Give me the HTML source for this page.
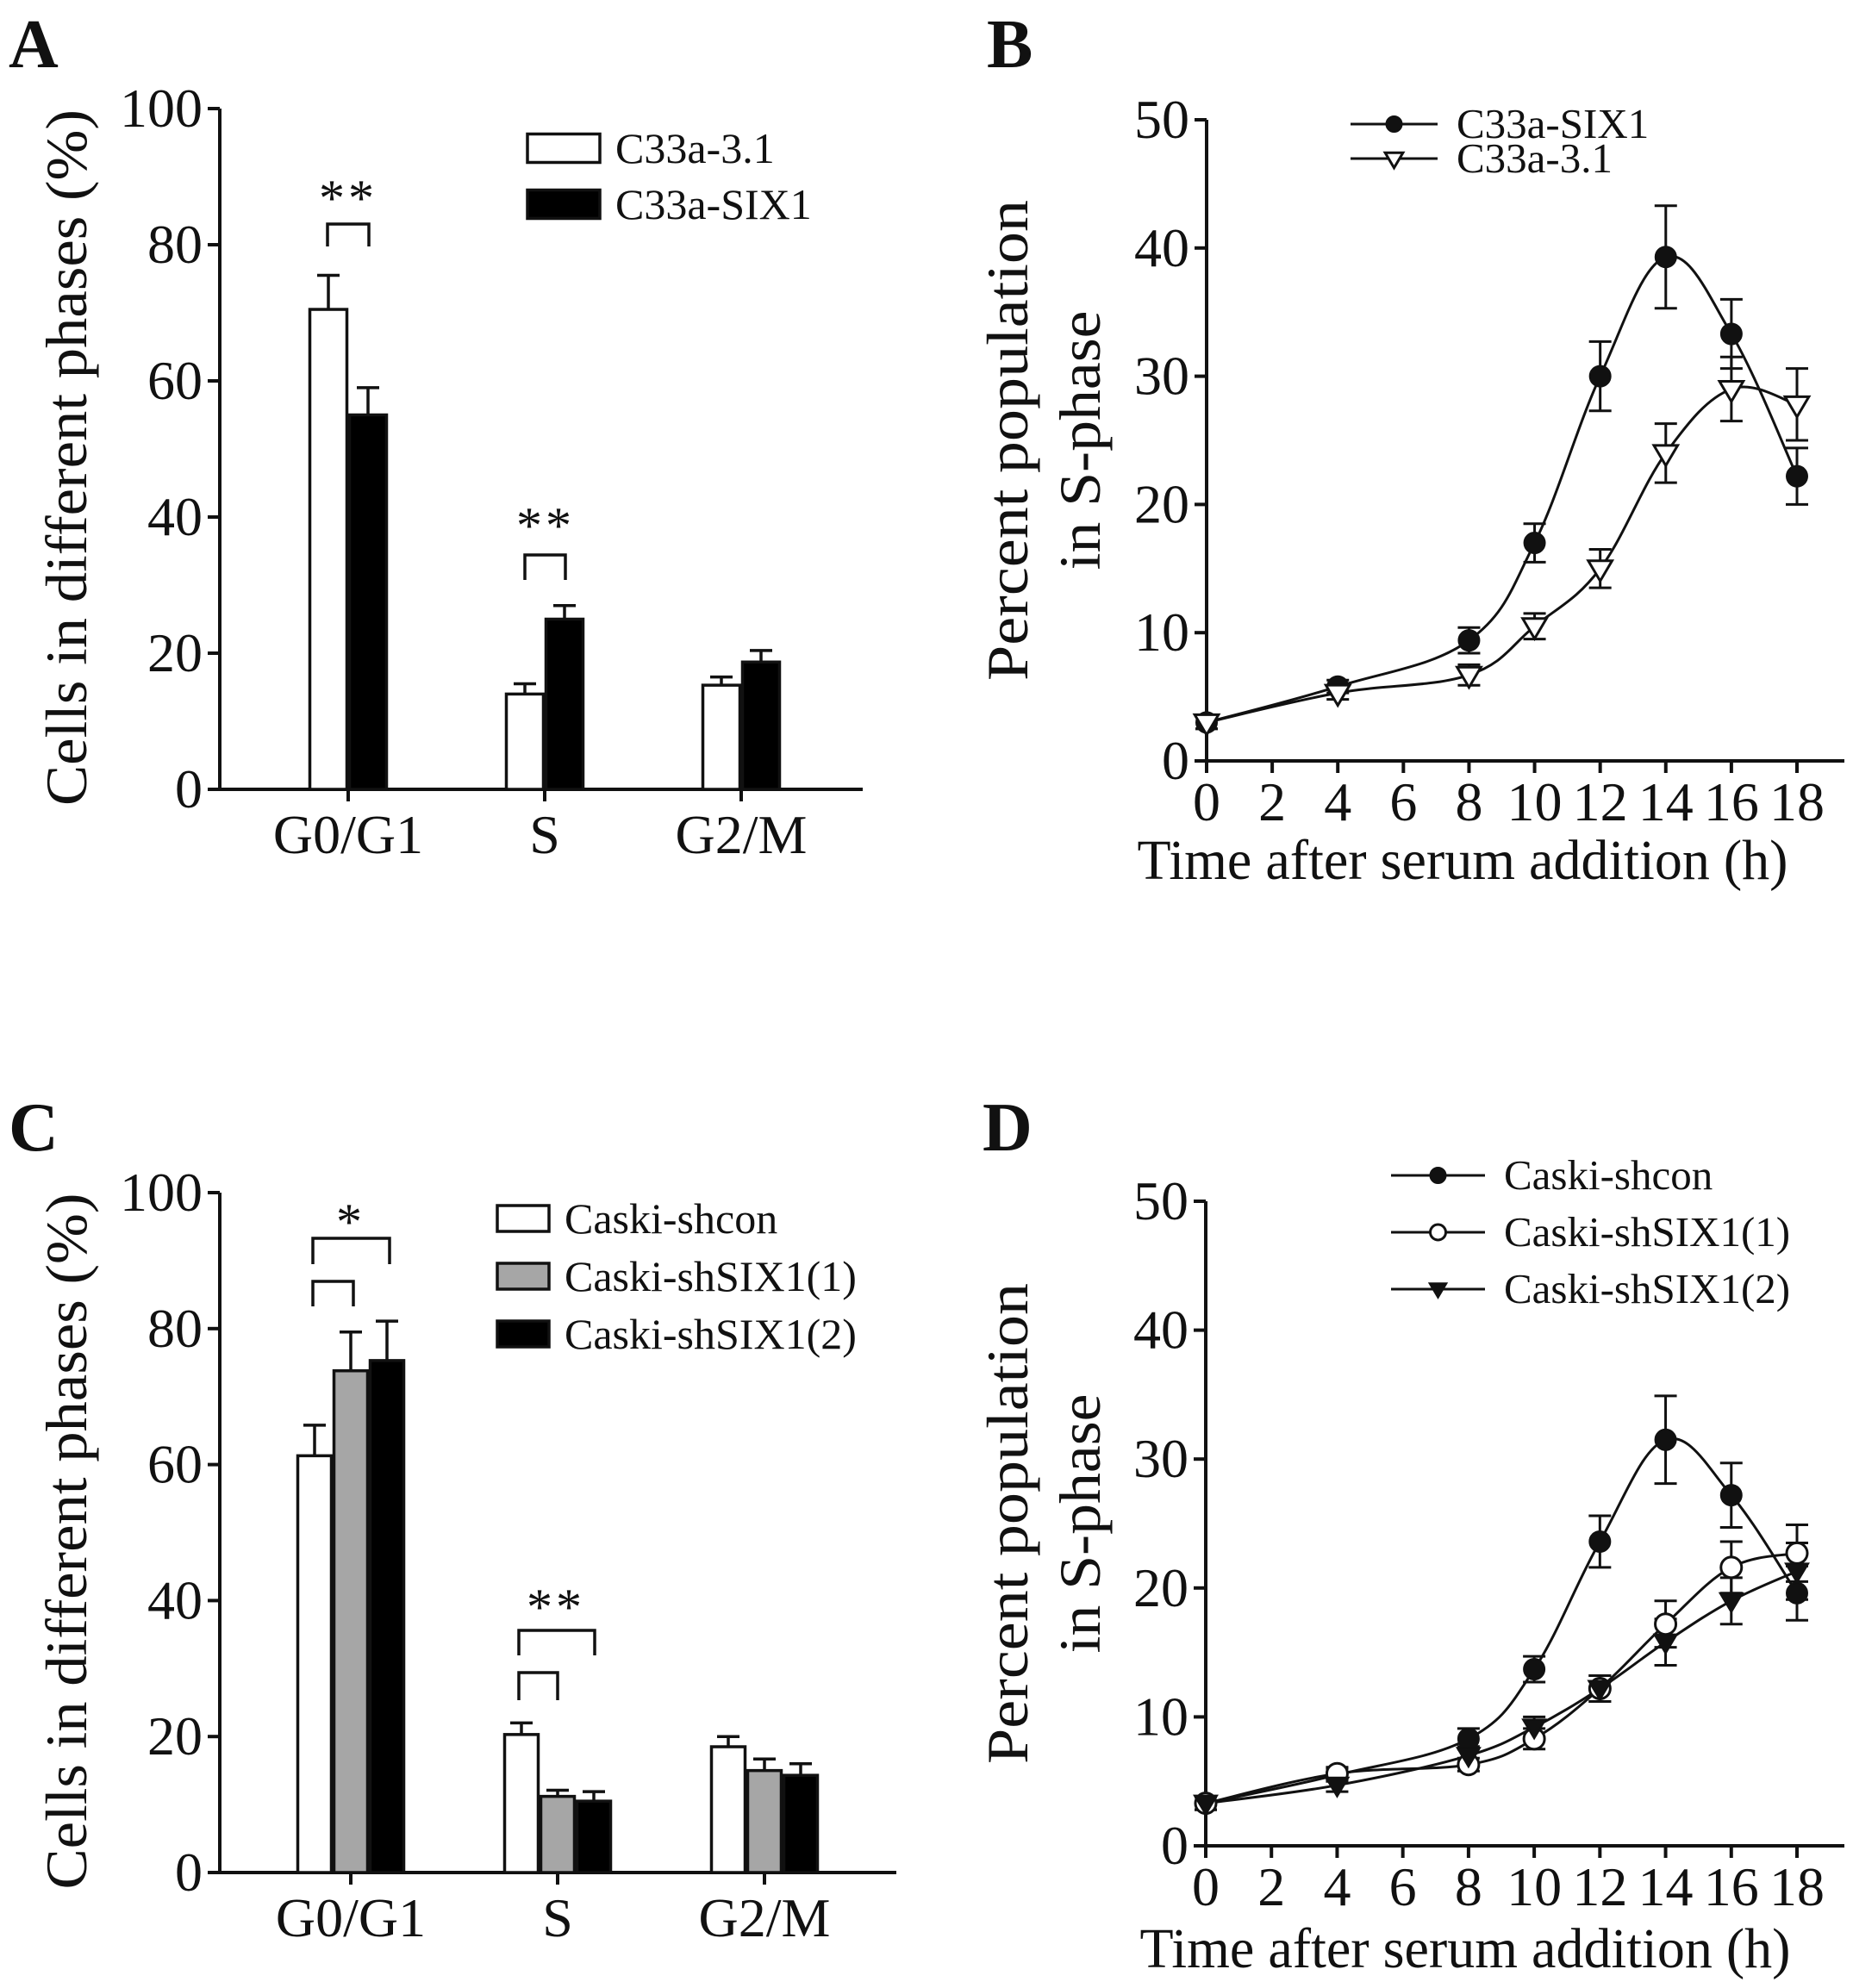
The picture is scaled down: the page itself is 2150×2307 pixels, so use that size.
<!DOCTYPE html>
<html><head><meta charset="utf-8"><style>
html,body{margin:0;padding:0;background:#fff}
svg{display:block;font-family:"Liberation Serif",serif}
</style></head><body>
<svg id="fig" width="2150" height="2307" viewBox="0 0 2150 2307" xmlns="http://www.w3.org/2000/svg">
<g fill="#111" font-weight="bold" font-size="80">
<text x="10" y="78">A</text>
<text x="1145" y="78">B</text>
<text x="10" y="1335">C</text>
<text x="1140" y="1335">D</text>
</g>
<g id="root"></g>
</svg>
<script>
// Panel A data
const catsA = ["G0/G1","S","G2/M"];
const a31 = [70.5,14,15.3];
const a31Err = [5,1.5,1.2];
const aSix = [55,25,18.7];
const aSixErr = [4,2,1.7];
// Panel C data
const catsC = ["G0/G1","S","G2/M"];
const cShcon = [61.3,20.3,18.5];
const cShconErr = [4.5,1.7,1.5];
const cSh1 = [73.8,11.2,15];
const cSh1Err = [5.7,0.9,1.7];
const cSh2 = [75.3,10.5,14.3];
const cSh2Err = [5.8,1.4,1.7];
const barTicks = [0,20,40,60,80,100];
// Panel B data
const timeB = [0,4,8,10,12,14,16,18];
const bSix = [3,5.8,9.4,17,30,39.3,33.3,22.2];
const bSixErr = [0.5,0.5,1,1.5,2.7,4,2.7,2.2];
const b31 = [3,5.3,6.7,10.5,15,24,29,27.8];
const b31Err = [0.5,0.5,0.8,1,1.5,2.3,2.5,2.8];
// Panel D data
const timeD = [0,4,8,10,12,14,16,18];
const dShcon = [3.3,5.5,8.3,13.7,23.6,31.5,27.2,19.6];
const dShconErr = [0.5,0.5,0.8,1,2,3.4,2.5,2.1];
const dSh1 = [3.3,5.6,6.3,8.3,12.2,17.2,21.6,22.7];
const dSh1Err = [0.5,0.5,0.5,0.8,1,1.8,2,2.2];
const dSh2 = [3.3,4.7,7,9.2,12.2,15.8,19,21.3];
const dSh2Err = [0.5,0.5,0.7,0.8,1,1.8,1.8,2.2];
const lineXTicks = [0,2,4,6,8,10,12,14,16,18];
const lineYTicks = [0,10,20,30,40,50];

const NS="http://www.w3.org/2000/svg";
const root=document.getElementById('root');
function mk(tag,attrs,parent){const e=document.createElementNS(NS,tag);for(const k in attrs)e.setAttribute(k,attrs[k]);(parent||root).appendChild(e);return e;}
function txt(s,attrs,parent){const e=mk('text',attrs,parent);e.textContent=s;return e;}

function barPanel(o){
  const g=mk('g',{});
  
  
  const y=v=>o.y0-(v/100)*(o.y0-o.y100);
  const ax=mk('path',{d:`M${o.ax} ${o.y100} V${o.y0} H${o.xEnd}`,stroke:'#111','stroke-width':4,fill:'none'},g);
  
  
  barTicks.forEach(t=>{
    mk('line',{x1:o.ax-14,x2:o.ax,y1:y(t),y2:y(t),stroke:'#111','stroke-width':4},g);
    const l=txt(String(t),{x:o.ax-20,y:y(t)+21,'font-size':64,'text-anchor':'end',fill:'#111'},g);
    
    
  });
  const yl=txt('Cells in different phases (%)',{x:0,y:0,'font-size':68,'text-anchor':'middle',fill:'#111',textLength:808,lengthAdjust:'spacingAndGlyphs',transform:`translate(${o.ylx},${(o.y0+o.y100)/2+10}) rotate(-90)`},g);
  
  
  const n=o.series.length;
  o.cats.forEach((c,i)=>{
    const cx=o.c0+i*o.cstep;
    mk('line',{x1:cx,x2:cx,y1:o.y0,y2:o.y0+14,stroke:'#111','stroke-width':4},g);
    const l=txt(c,{x:cx,y:o.tly,'font-size':64,'text-anchor':'middle',fill:'#111'},g);
    
    
    o.series.forEach((s,j)=>{
      const x=cx-n*o.bw/2+j*o.bw;
      const v=s.vals[i], e=s.err[i];
      const ex=x+o.bw/2;
      mk('path',{d:`M${ex} ${y(v)} V${y(v+e)} M${ex-13} ${y(v+e)} H${ex+13}`,stroke:'#111','stroke-width':3.5,fill:'none'},g);
      const r=mk('rect',{x:x+1.5,y:y(v),width:o.bw-3,height:o.y0-y(v),fill:s.fill,stroke:'#111','stroke-width':3.5},g);
      
      
    });
  });
  o.series.forEach((s,j)=>{
    const ly=o.legY+j*o.legStep;
    const r=mk('rect',{x:o.legX,y:ly-o.legH/2,width:o.legW,height:o.legH,fill:s.fill,stroke:'#111','stroke-width':3.5},g);
    
    
    const t=txt(s.label,{x:o.legX+o.legW+18,y:ly+17,'font-size':50,fill:'#111'},g);
    
    
  });
  o.brackets.forEach(b=>{
    const p=mk('path',{d:`M${b[0]} ${b[3]} V${b[2]} H${b[1]} V${b[3]}`,stroke:'#111','stroke-width':3.5,fill:'none'},g);
    
    
  });
  o.stars.forEach(s=>{
    const t=txt(s[2],{x:s[0],y:s[1],'font-size':60,'text-anchor':'middle',fill:'#111','letter-spacing':4},g);
    
    
  });
}

barPanel({name:'panel-a-bar-chart',ax:255,y0:916,y100:126,xEnd:1001,c0:404,cstep:228,bw:46,tly:990,ylx:100,cats:catsA,
  series:[{key:'c33a-3-1',label:'C33a-3.1',vals:a31,err:a31Err,fill:'#fff'},{key:'c33a-six1',label:'C33a-SIX1',vals:aSix,err:aSixErr,fill:'#000'}],
  legX:612,legY:172,legStep:65,legW:84,legH:33,
  brackets:[[380,428,260,286],[609,656,644,673]],stars:[[404,250,'**'],[633,630,'**']]});
barPanel({name:'panel-c-bar-chart',ax:255,y0:2173,y100:1384,xEnd:1040,c0:407,cstep:240,bw:42,tly:2247,ylx:100,cats:catsC,
  series:[{key:'caski-shcon',label:'Caski-shcon',vals:cShcon,err:cShconErr,fill:'#fff'},{key:'caski-shsix1-1',label:'Caski-shSIX1(1)',vals:cSh1,err:cSh1Err,fill:'#a6a6a6'},{key:'caski-shsix1-2',label:'Caski-shSIX1(2)',vals:cSh2,err:cSh2Err,fill:'#000'}],
  legX:577,legY:1414,legStep:67,legW:60,legH:30,
  brackets:[[363,452,1437,1467],[363,410,1487,1516],[602,690,1892,1921],[602,647,1941,1973]],stars:[[407,1438,'*'],[645,1885,'**']]});

function spline(pts){
  let d=`M${pts[0][0]} ${pts[0][1]}`;
  for(let i=0;i<pts.length-1;i++){
    const p0=pts[Math.max(0,i-1)],p1=pts[i],p2=pts[i+1],p3=pts[Math.min(pts.length-1,i+2)];
    const t=0.18;
    const c1=[p1[0]+(p2[0]-p0[0])*t,p1[1]+(p2[1]-p0[1])*t];
    const c2=[p2[0]-(p3[0]-p1[0])*t,p2[1]-(p3[1]-p1[1])*t];
    d+=` C${c1[0]} ${c1[1]} ${c2[0]} ${c2[1]} ${p2[0]} ${p2[1]}`;
  }
  return d;
}
function marker(type,x,y,g,r){
  let e;
  if(type==='dot') e=mk('circle',{cx:x,cy:y,r:r,fill:'#111',stroke:'#111','stroke-width':2},g);
  else if(type==='ring') e=mk('circle',{cx:x,cy:y,r:r,fill:'#fff',stroke:'#111','stroke-width':3},g);
  else if(type==='tri-open') e=mk('path',{d:`M${x-r*1.15} ${y-r*0.75} H${x+r*1.15} L${x} ${y+r*1.2} Z`,fill:'#fff',stroke:'#111','stroke-width':3},g);
  else e=mk('path',{d:`M${x-r*1.1} ${y-r*0.75} H${x+r*1.1} L${x} ${y+r*1.1} Z`,fill:'#111',stroke:'#111','stroke-width':2},g);
  return e;
}
function linePanel(o){
  const g=mk('g',{});
  
  
  const X=v=>o.ax+(v/18)*(o.x18-o.ax);
  const Y=v=>o.y0-(v/50)*(o.y0-o.y50);
  const ax=mk('path',{d:`M${o.ax} ${o.y50} V${o.y0} H${o.xEnd}`,stroke:'#111','stroke-width':4,fill:'none'},g);
  
  
  lineYTicks.forEach(t=>{
    mk('line',{x1:o.ax-14,x2:o.ax,y1:Y(t),y2:Y(t),stroke:'#111','stroke-width':4},g);
    const l=txt(String(t),{x:o.ax-20,y:Y(t)+21,'font-size':64,'text-anchor':'end',fill:'#111'},g);
    
    
  });
  lineXTicks.forEach(t=>{
    mk('line',{x1:X(t),x2:X(t),y1:o.y0,y2:o.y0+14,stroke:'#111','stroke-width':4},g);
    const l=txt(String(t),{x:X(t),y:o.tly,'font-size':64,'text-anchor':'middle',fill:'#111'},g);
    
    
  });
  const xt=txt('Time after serum addition (h)',{x:o.tcx,y:o.tty,'font-size':66,'text-anchor':'middle',fill:'#111',textLength:755,lengthAdjust:'spacingAndGlyphs'},g);
  
  
  const cy=(o.y0+o.y50)/2;
  const y1=txt('Percent population',{x:0,y:0,'font-size':68,'text-anchor':'middle',fill:'#111',textLength:558,lengthAdjust:'spacingAndGlyphs',transform:`translate(${1192},${cy}) rotate(-90)`},g);
  
  
  const y2=txt('in S-phase',{x:0,y:0,'font-size':68,'text-anchor':'middle',fill:'#111',textLength:301,lengthAdjust:'spacingAndGlyphs',transform:`translate(${1276},${cy}) rotate(-90)`},g);
  
  
  o.series.forEach(s=>{
    const pts=o.t.map((t,i)=>[X(t),Y(s.vals[i])]);
    const p=mk('path',{d:spline(pts),stroke:'#111','stroke-width':3,fill:'none'},g);
    
    
    o.t.forEach((t,i)=>{
      const v=s.vals[i],e=s.err[i],x=X(t);
      mk('path',{d:`M${x} ${Y(v-e)} V${Y(v+e)} M${x-13} ${Y(v+e)} H${x+13} M${x-13} ${Y(v-e)} H${x+13}`,stroke:'#111','stroke-width':3,fill:'none'},g);
    });
  });
  o.series.forEach(s=>{
    o.t.forEach((t,i)=>{
      const m=marker(s.m,X(t),Y(s.vals[i]),g,o.r);
      
      
    });
  });
  o.series.forEach((s,j)=>{
    const ly=o.legY+j*o.legStep;
    mk('line',{x1:o.legX,x2:o.legX+o.legW,y1:ly,y2:ly,stroke:'#111','stroke-width':3},g);
    const m=marker(s.m,o.legX+o.legW/2,ly,g,o.lr);
    
    
    const t=txt(s.label,{x:o.legX+o.legW+22,y:ly+16,'font-size':49,fill:'#111'},g);
    
    
  });
}
linePanel({name:'panel-b-line-chart',ax:1400,x18:2085,xEnd:2140,y0:883,y50:139,tly:952,tcx:1697,tty:1020,t:timeB,r:12,lr:9,
  series:[{key:'c33a-six1',label:'C33a-SIX1',vals:bSix,err:bSixErr,m:'dot'},{key:'c33a-3-1',label:'C33a-3.1',vals:b31,err:b31Err,m:'tri-open'}],
  legX:1567,legY:144,legStep:40,legW:101});
linePanel({name:'panel-d-line-chart',ax:1399,x18:2085,xEnd:2140,y0:2142,y50:1394,tly:2211,tcx:1700,tty:2283,t:timeD,r:12,lr:9,
  series:[{key:'caski-shcon',label:'Caski-shcon',vals:dShcon,err:dShconErr,m:'dot'},{key:'caski-shsix1-1',label:'Caski-shSIX1(1)',vals:dSh1,err:dSh1Err,m:'ring'},{key:'caski-shsix1-2',label:'Caski-shSIX1(2)',vals:dSh2,err:dSh2Err,m:'tri'}],
  legX:1614,legY:1364,legStep:66,legW:109});
</script>
</body></html>
